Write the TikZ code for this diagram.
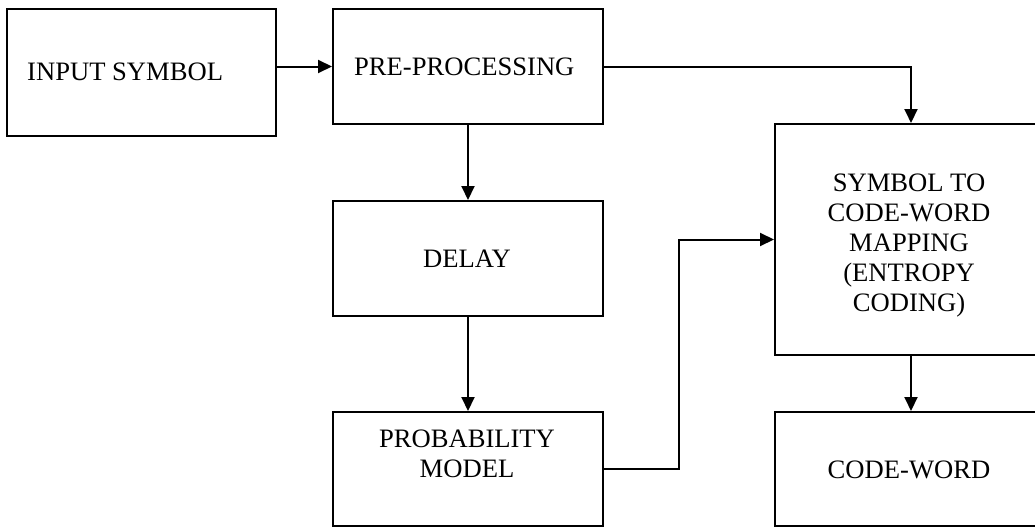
\documentclass[tikz,border=0pt]{standalone}
\usepackage{fontspec}
\setmainfont{Liberation Serif}
\usetikzlibrary{arrows.meta}
\begin{document}
\begin{tikzpicture}[x=1pt,y=-1pt,
  blk/.style={draw,line width=2pt,inner sep=0pt},
  lbl/.style={inner sep=0pt,font=\fontsize{26.6}{30}\selectfont,align=center},
  flow/.style={line width=2pt,-{Triangle[length=14pt,width=13pt]}}]
\useasboundingbox (0,0) rectangle (1035,527);
\clip (0,0) rectangle (1035,527);
% blocks
\node[blk,minimum width=269pt,minimum height=127pt] (inp) at (141.5,72.5) {};
\node[blk,minimum width=270pt,minimum height=115pt] (pre) at (468,66.5) {};
\node[blk,minimum width=270pt,minimum height=115pt] (dly) at (468,258.5) {};
\node[blk,minimum width=270pt,minimum height=114pt] (prob) at (468,469) {};
\node[blk,minimum width=272pt,minimum height=231pt] (sym) at (911,239.5) {};
\node[blk,minimum width=272pt,minimum height=114pt] (code) at (911,469) {};
% block texts (multi-line nodes are anchored at the baseline of their last line)
\node[lbl,anchor=base west] (tinp) at (27,81) {INPUT SYMBOL};
\node[lbl,anchor=base west] (tpre) at (354,75) {PRE-PROCESSING};
\node[lbl,anchor=base] (tdly) at (467,267) {DELAY};
\node[lbl,anchor=base] (tprob) at (467,477) {PROBABILITY\\MODEL};
\node[lbl,anchor=base] (tsym) at (909,311) {SYMBOL TO\\CODE-WORD\\MAPPING\\(ENTROPY\\CODING)};
\node[lbl,anchor=base] (tcode) at (909,478) {CODE-WORD};
% connectors
\coordinate (bend) at (679,469);
\draw[flow] (inp.east |- pre.west) -- (pre.west);
\draw[flow] (pre.south) -- (dly.north);
\draw[flow] (dly.south) -- (prob.north);
\draw[flow] (pre.east) -| (sym.north);
\draw[flow] (prob.east) -- (bend) |- (sym.west);
\draw[flow] (sym.south) -- (code.north);
\end{tikzpicture}
\end{document}
